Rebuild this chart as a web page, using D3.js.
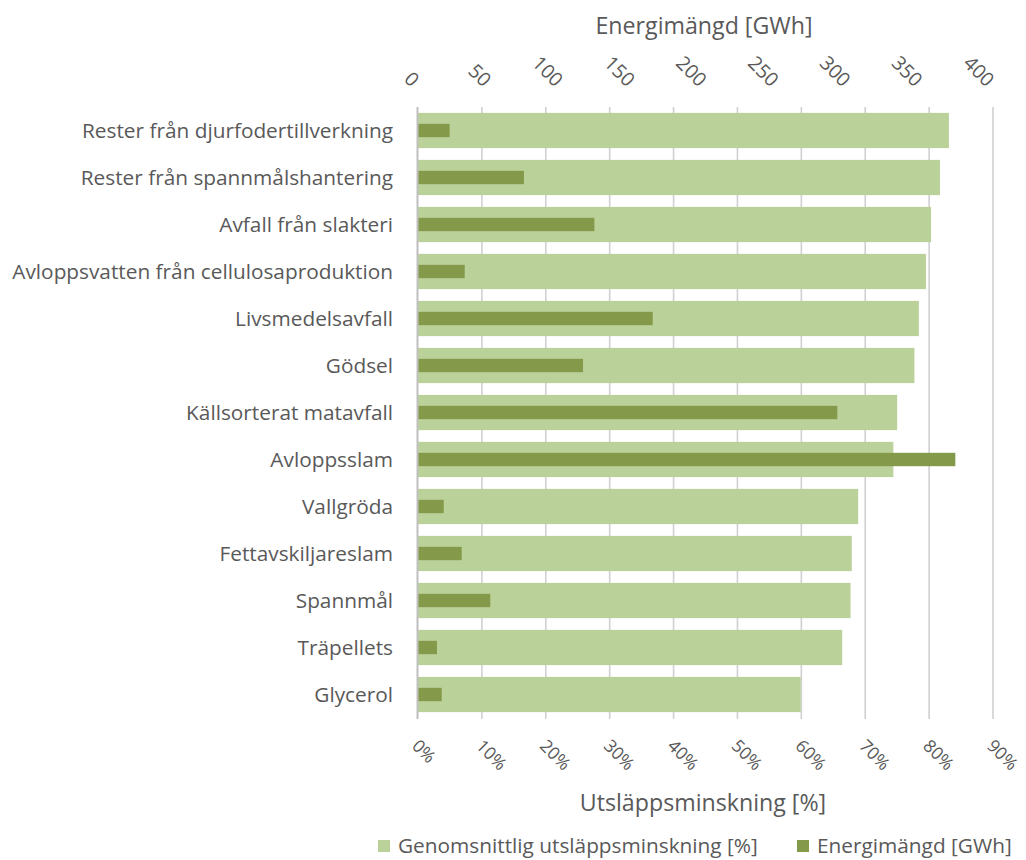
<!DOCTYPE html>
<html><head><meta charset="utf-8">
<script src="https://cdn.jsdelivr.net/npm/d3@7"></script>
<style>body{margin:0;background:#fff}svg{display:block}text{font-family:"Open Sans",sans-serif;fill:#595959}</style>
</head><body><svg id="c" width="1026" height="860"></svg>
<script>
const categories = ["Rester från djurfodertillverkning","Rester från spannmålshantering","Avfall från slakteri","Avloppsvatten från cellulosaproduktion","Livsmedelsavfall","Gödsel","Källsorterat matavfall","Avloppsslam","Vallgröda","Fettavskiljareslam","Spannmål","Träpellets","Glycerol"];
const reduction = [83.1,81.7,80.3,79.5,78.4,77.7,75.0,74.4,68.9,67.9,67.7,66.4,59.9];
const energy = [22,73.7,122.7,32.5,163.3,114.8,291.7,373.8,17.9,30.4,50.3,13.2,16.5];
const pctTicks = [0,10,20,30,40,50,60,70,80,90];
const energyTicks = [0,50,100,150,200,250,300,350,400];
const seriesNames = ["Genomsnittlig utsläppsminskning [%]","Energimängd [GWh]"];
const colors = ["#BBD19A","#85994A"];

const svg = d3.select("#c");
const x0 = 418, x1 = 993, yTop = 107, yBot = 718;
const xP = d3.scaleLinear().domain([0,90]).range([x0,x1]);
const xE = d3.scaleLinear().domain([0,400]).range([x0,x1]);
const y = d3.scaleBand().domain(categories).range([yTop,yBot]).paddingInner(0.25).paddingOuter(0.125);

// gridlines
svg.append("g").selectAll("line").data(pctTicks.slice(1)).join("line")
  .attr("x1",d=>xP(d)).attr("x2",d=>xP(d)).attr("y1",yTop).attr("y2",yBot+1)
  .attr("stroke","#d0d0d0").attr("stroke-width",1.6);

// light bars
svg.append("g").selectAll("rect").data(categories).join("rect")
  .attr("x",xP(0)).attr("y",d=>y(d)).attr("height",y.bandwidth())
  .attr("width",(d,i)=>xP(reduction[i])-xP(0)).attr("fill",colors[0]);
// dark bars
const eh = 13.4;
svg.append("g").selectAll("rect").data(categories).join("rect")
  .attr("x",xE(0)).attr("y",d=>y(d)+y.bandwidth()/2-eh/2).attr("height",eh)
  .attr("width",(d,i)=>xE(energy[i])-xE(0)).attr("fill",colors[1]);

// left axis line
svg.append("line").attr("x1",x0-0.5).attr("x2",x0-0.5).attr("y1",yTop).attr("y2",yBot+1)
  .attr("stroke","#bfbfbf").attr("stroke-width",2);

// category labels
svg.append("g").selectAll("text").data(categories).join("text")
  .attr("x",393).attr("y",d=>y(d)+y.bandwidth()/2).attr("dy","0.36em")
  .attr("text-anchor","end").attr("font-size",20.8).text(d=>d);

// bottom tick labels
svg.append("g").selectAll("text").data(pctTicks).join("text")
  .attr("transform",d=>`translate(${xP(d)-7},${747}) rotate(45)`)
  .attr("text-anchor","start").attr("font-size",17.5).text(d=>d+"%");

// top tick labels
svg.append("g").selectAll("text").data(energyTicks).join("text")
  .attr("transform",d=>`translate(${xE(d)-7},${88}) rotate(45)`)
  .attr("text-anchor","end").attr("font-size",19.5).text(d=>d);

// axis titles
svg.append("text").attr("x",704).attr("y",34).attr("text-anchor","middle").attr("font-size",23.2).text("Energimängd [GWh]");
svg.append("text").attr("x",703).attr("y",811).attr("text-anchor","middle").attr("font-size",23.2).text("Utsläppsminskning [%]");

// legend
const leg = [{x:378,tx:398},{x:797,tx:817}];
const lg = svg.append("g");
seriesNames.forEach((s,i)=>{
  lg.append("rect").attr("x",leg[i].x).attr("y",840).attr("width",12).attr("height",12).attr("fill",colors[i]);
  lg.append("text").attr("x",leg[i].tx).attr("y",853).attr("font-size",20.8).text(s);
});
</script></body></html>
